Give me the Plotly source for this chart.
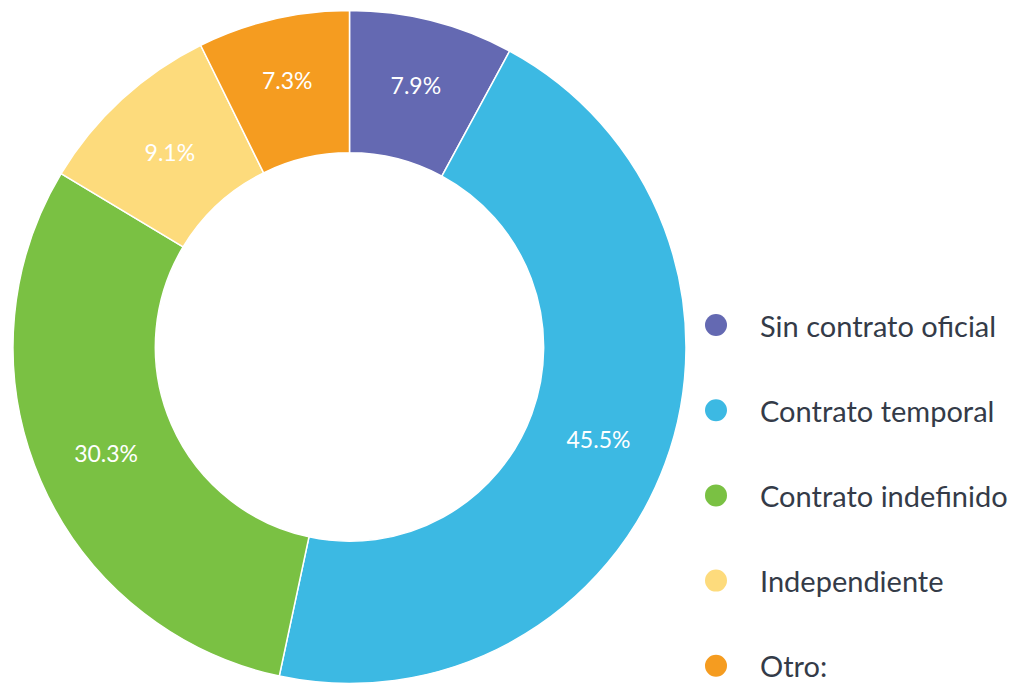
import plotly.graph_objects as go

labels = ["Sin contrato oficial", "Contrato temporal", "Contrato indefinido", "Independiente", "Otro:"]
values = [7.9, 45.5, 30.3, 9.1, 7.3]
colors = ["#6469B2", "#3CB9E3", "#7AC143", "#FDDB7C", "#F59C20"]

# The page body has an 8px default margin, so the figure is drawn 8px in
# from the top-left corner of the window; positions below are window pixels.
OFF = 8
W, H = 1021 - OFF, 684 - OFF
cx, cy, r = 349.5 - OFF, 347 - OFF, 336.5

fig = go.Figure()
fig.add_trace(go.Pie(
    labels=labels, values=values, sort=False, direction="clockwise", rotation=0,
    hole=0.577,
    marker=dict(colors=colors, line=dict(color="white", width=1.5)),
    texttemplate="%{value:.1f}%", textinfo="text", textposition="inside",
    insidetextorientation="horizontal",
    textfont=dict(family="Lato", size=23, color="white"),
    domain=dict(x=[(cx - r) / W, (cx + r) / W], y=[1 - (cy + r) / H, 1 - (cy - r) / H]),
    showlegend=False,
))

# manual legend (circle + label) to match the reference styling
leg_x0, leg_y0, leg_dy, dot_r = 716 - OFF, 325 - OFF, 85.2, 11
text_x = 759 - OFF
for i, (lab, col) in enumerate(zip(labels, colors)):
    yc = leg_y0 + i * leg_dy
    fig.add_shape(type="circle", xref="paper", yref="paper",
                  x0=(leg_x0 - dot_r) / W, x1=(leg_x0 + dot_r) / W,
                  y0=1 - (yc + dot_r) / H, y1=1 - (yc - dot_r) / H,
                  fillcolor=col, line=dict(width=0))
    fig.add_annotation(xref="paper", yref="paper", x=text_x / W, y=1 - yc / H,
                       xanchor="left", yanchor="middle", showarrow=False, text=lab,
                       borderpad=0,
                       font=dict(family="Lato", size=29, color="#343B48"))

fig.update_layout(
    width=W, height=H, margin=dict(l=0, r=0, t=0, b=0),
    paper_bgcolor="white", plot_bgcolor="white", showlegend=False,
    uniformtext=dict(minsize=23, mode="show"),
)
fig.write_html("out.html")
